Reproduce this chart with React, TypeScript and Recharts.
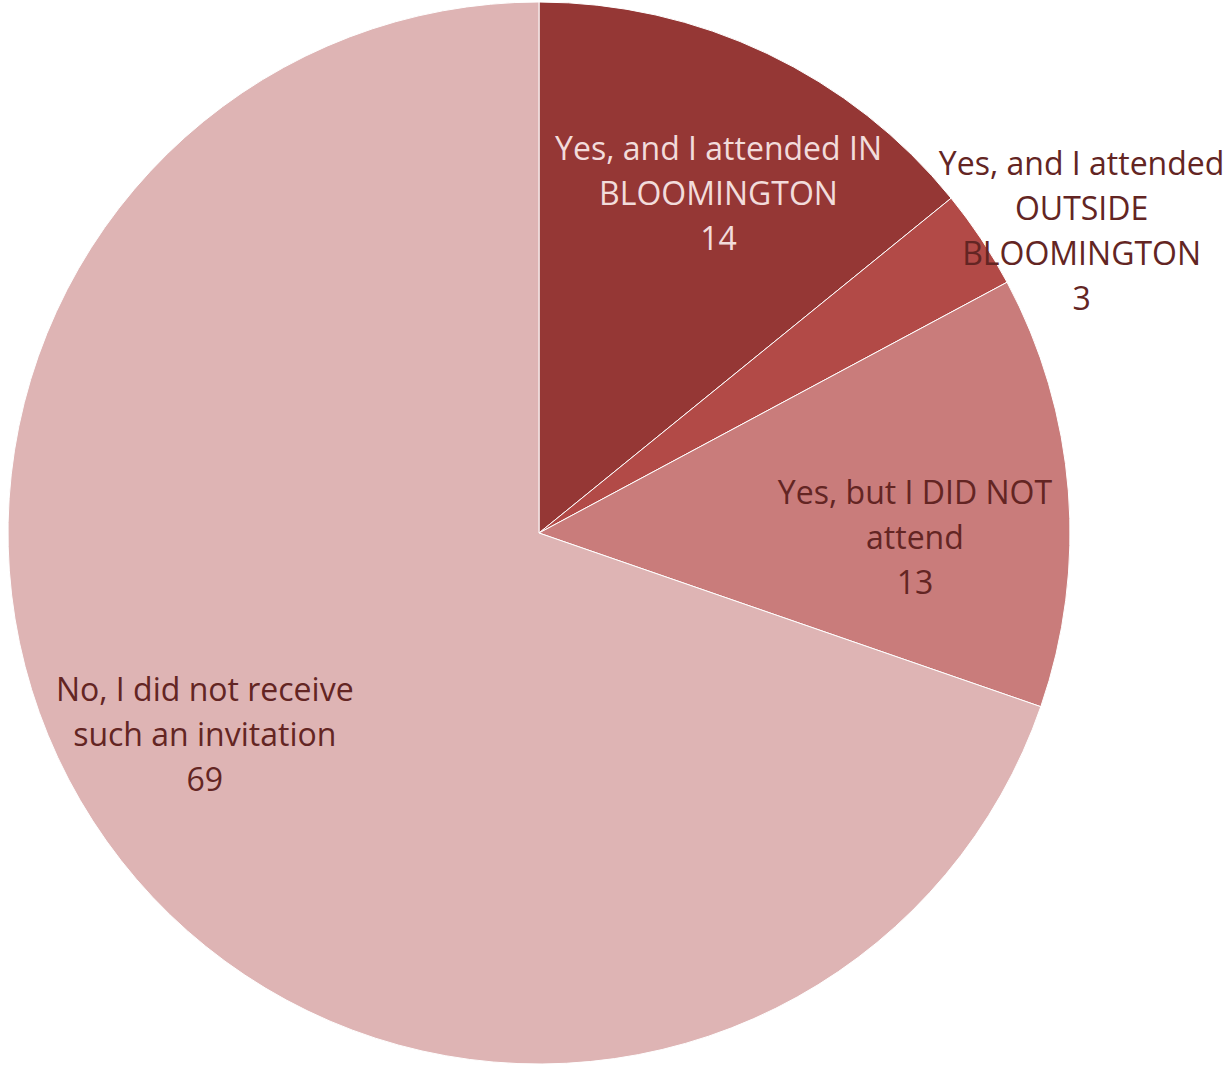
import React from 'react';
import { PieChart, Pie, Cell } from 'recharts';

const categories = [
  'Yes, and I attended IN BLOOMINGTON',
  'Yes, and I attended OUTSIDE BLOOMINGTON',
  'Yes, but I DID NOT attend',
  'No, I did not receive such an invitation',
];
const counts = [14, 3, 13, 69];
const labelLines = [
  ['Yes, and I attended IN', 'BLOOMINGTON'],
  ['Yes, and I attended', 'OUTSIDE', 'BLOOMINGTON'],
  ['Yes, but I DID NOT', 'attend'],
  ['No, I did not receive', 'such an invitation'],
];
const sliceColors = ['#953735', '#B24A47', '#C97C7B', '#DEB4B4'];
const textColors = ['#F2DCDB', '#632523', '#632523', '#632523'];
// label placement: radius as fraction of outer radius, angle nudge in degrees
const labelRadius = [0.726, 1.171, 0.708, 0.734];
const labelNudge = [-2.3, -4.4, -5, -4.5];

const data = categories.map((name, i) => ({ name, value: counts[i] }));

const RAD = Math.PI / 180;
const LINE_H = 45;

function renderLabel(props: any) {
  const { cx, cy, midAngle, outerRadius, index, value } = props;
  const a = (midAngle + labelNudge[index]) * RAD;
  const r = outerRadius * labelRadius[index];
  const x = cx + r * Math.cos(a);
  const y = cy - r * Math.sin(a);
  const lines = [...labelLines[index], String(value)];
  const top = y - ((lines.length - 1) / 2) * LINE_H;
  return (
    <text
      x={x}
      y={top}
      fill={textColors[index]}
      textAnchor="middle"
      dominantBaseline="central"
      fontFamily="'Open Sans', sans-serif"
      fontSize={32}
    >
      {lines.map((l, i) => (
        <tspan key={i} x={x} y={top + i * LINE_H}>
          {l}
        </tspan>
      ))}
    </text>
  );
}

export default function App() {
  return (
    <div
      style={{
        position: 'absolute',
        left: 0,
        top: 0,
        width: 1226,
        height: 1067,
        overflow: 'hidden',
        background: '#fff',
      }}
    >
      <PieChart
        width={1226}
        height={1067}
        margin={{ top: 0, right: 0, bottom: 0, left: 0 }}
        style={{ overflow: 'visible' }}
      >
        <Pie
          data={data}
          dataKey="value"
          nameKey="name"
          cx={539}
          cy={533}
          outerRadius={531}
          startAngle={90}
          endAngle={-270}
          stroke="#ffffff"
          strokeWidth={1}
          label={renderLabel}
          labelLine={false}
          isAnimationActive={false}
        >
          {data.map((d, i) => (
            <Cell key={d.name} fill={sliceColors[i]} />
          ))}
        </Pie>
      </PieChart>
    </div>
  );
}
